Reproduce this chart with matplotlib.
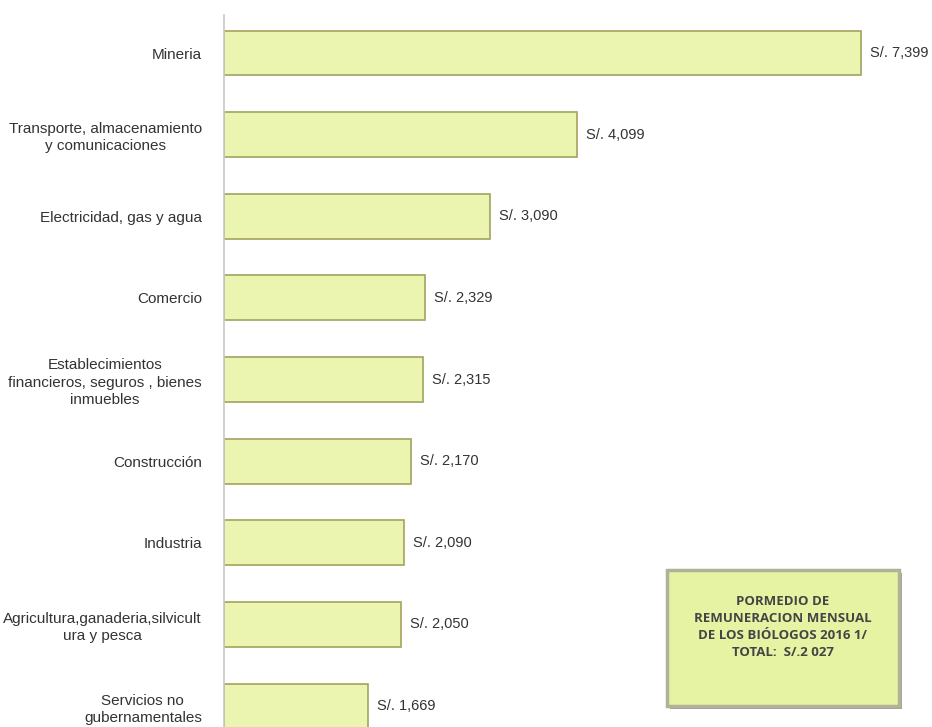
import matplotlib

matplotlib.use("Agg")
import matplotlib.pyplot as plt
from matplotlib.patches import Rectangle

sectores = [
    "Mineria",
    "Transporte, almacenamiento\ny comunicaciones",
    "Electricidad, gas y agua",
    "Comercio",
    "Establecimientos\nfinancieros, seguros , bienes\ninmuebles",
    "Construcción",
    "Industria",
    "Agricultura,ganaderia,silvicult\nura y pesca",
    "Servicios no\ngubernamentales",
]
remuneracion = [7399, 4099, 3090, 2329, 2315, 2170, 2090, 2050, 1669]

plt.rcParams["font.family"] = ["Liberation Sans", "DejaVu Sans"]

fig = plt.figure(figsize=(9.32, 7.27), dpi=100)
ax = fig.add_axes([224 / 932, 0, 708 / 932, 712 / 727])

pos = list(range(len(sectores)))
ax.barh(pos, remuneracion, height=0.55, color="#ebf5b0",
        edgecolor="#a3a35e", linewidth=1.2)

for y, v in zip(pos, remuneracion):
    ax.text(v + 105, y, f"S/. {v:,}", va="center", ha="left",
            fontsize=10.5, color="#333333")

ax.set_yticks(pos)
ax.set_yticklabels(sectores, fontsize=11, color="#333333",
                   multialignment="center", linespacing=1.3)
ax.tick_params(axis="y", length=0, pad=16)
ax.set_xticks([])
ax.set_xlim(0, 8223)
ax.set_ylim(8.257, -0.466)

for s in ["top", "right", "bottom"]:
    ax.spines[s].set_visible(False)
ax.spines["left"].set_color("#c8c8c8")
ax.spines["left"].set_linewidth(1.2)

# recuadro con el promedio total (sombra + caja)
W, H = 932, 727
fig.patches.append(Rectangle((670 / W, 1 - 709 / H), 232 / W, 136 / H,
                             transform=fig.transFigure, facecolor="#a4a48e",
                             edgecolor="none"))
fig.patches.append(Rectangle((667 / W, 1 - 706 / H), 232 / W, 136 / H,
                             transform=fig.transFigure, facecolor="#e6f3a3",
                             edgecolor="#b2b29a", linewidth=2.5))
fig.text(783 / W, 1 - 627 / H,
         "PORMEDIO DE\nREMUNERACION MENSUAL\nDE LOS BIÓLOGOS 2016 1/\nTOTAL:  S/.2 027",
         ha="center", va="center", fontsize=9.5, fontweight="bold",
         color="#454545", family=["Open Sans", "DejaVu Sans"], linespacing=1.4)

fig.savefig("out.png", dpi=100)
